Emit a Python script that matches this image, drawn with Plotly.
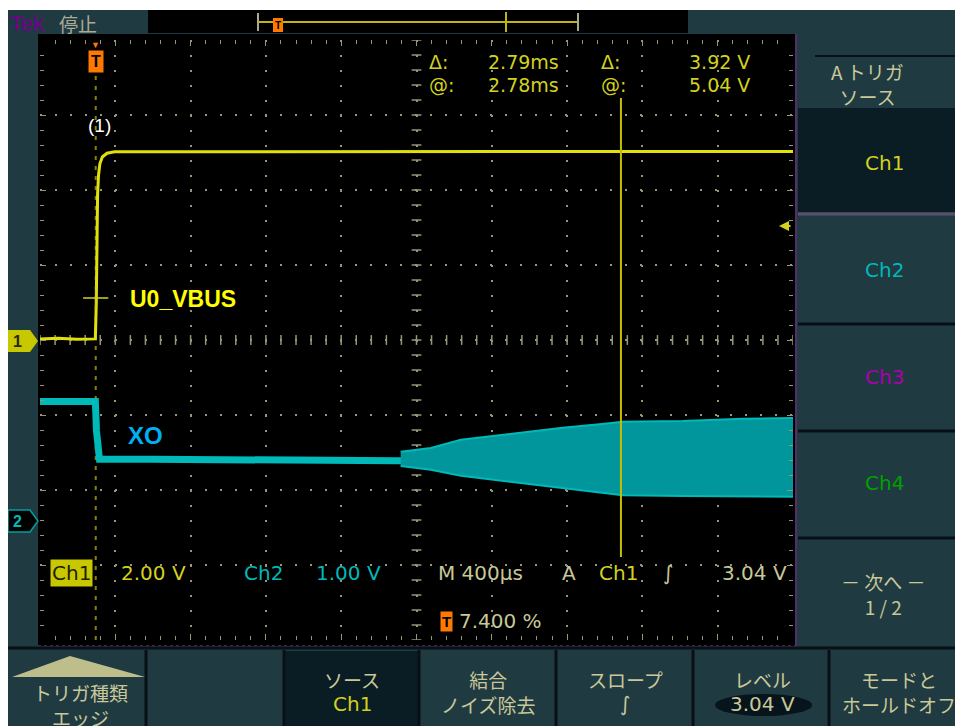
import numpy as np
import plotly.graph_objects as go

# ---------------- data ----------------
# Ch1 : U0_VBUS  (time in ms, voltage in V)
ch1_t = [-0.296, -0.20, -0.10, -0.002, 0.003, 0.006, 0.010, 0.015, 0.022, 0.035, 0.06, 0.10,
         0.5, 1.0, 1.5, 2.0, 2.5, 3.0, 3.5, 3.704]
ch1_v = [0.03, 0.05, 0.02, 0.03, 1.0, 2.6, 3.9, 4.4, 4.7, 4.88, 4.98, 5.02,
         5.02, 5.03, 5.02, 5.02, 5.03, 5.02, 5.02, 5.03]

# Ch2 : XO (centre of the trace)
ch2_t = [-0.296, -0.15, -0.002, 0.004, 0.012, 0.02, 0.3, 0.8, 1.2, 1.6, 2.0, 2.5, 3.0, 3.5, 3.704]
ch2_v = [1.59, 1.58, 1.59, 1.2, 0.9, 0.82, 0.82, 0.81, 0.80, 0.80, 0.81, 0.83, 0.83, 0.84, 0.84]

# Ch2 : XO oscillation envelope once the crystal starts up
env_t = [1.62, 1.78, 1.94, 2.10, 2.32, 2.48, 2.69, 2.80, 3.12, 3.44, 3.704]
env_hi = [0.92, 0.97, 1.08, 1.13, 1.19, 1.24, 1.29, 1.32, 1.33, 1.36, 1.37]
env_lo = [0.73, 0.68, 0.60, 0.55, 0.49, 0.44, 0.37, 0.34, 0.33, 0.32, 0.32]

# scope settings / readouts
time_per_div = 0.4          # ms  (M 400us)
trig_frac = 0.074           # 7.400 %
ch1_scale, ch2_scale = 2.0, 1.0
ch2_offset_div = -2.41
cursor_t = 2.79
cursor_v = 1.12
trig_level = 3.04
readout_top = [("Δ:", "2.79ms", "Δ:", "3.92 V"), ("@:", "2.78ms", "@:", "5.04 V")]
readout_bottom = ["Ch1", "2.00 V", "Ch2", "1.00 V", "M 400µs", "A", "Ch1", "∫", "3.04 V"]
side_menu = ["Ch1", "Ch2", "Ch3", "Ch4"]
bottom_menu = [("トリガ種類", "エッジ"), ("", ""), ("ソース", "Ch1"), ("結合", "ノイズ除去"),
               ("スロープ", "∫"), ("レベル", "3.04 V"), ("モードと", "ホールドオフ")]

# ---------------- geometry (screen pixels; page has an 8px body margin) ----------------
OX, OY = 8, 8
W, H = 963 - OX, 726 - OY
PL, PR, PT, PB = 40, 793, 40, 640
t0 = -trig_frac * 10 * time_per_div
t1 = t0 + 10 * time_per_div


def px(x):
    return (x - PL) / (PR - PL)


def py(y):
    return (PB - y) / (PB - PT)


TEAL = "rgb(32,58,66)"
DARK = "rgb(10,28,36)"
TAN = "rgb(200,200,152)"
YEL = "rgb(210,210,30)"
CYA = "rgb(0,185,185)"
GRID = "rgb(150,150,120)"
JP = "Noto Sans CJK JP"
MONO = "DejaVu Sans"

fig = go.Figure()

# graticule centre-line ticks
mx = np.arange(t0, t1 + 1e-9, time_per_div / 5)
my = np.arange(-4 * ch1_scale, 4 * ch1_scale + 1e-9, ch1_scale / 5)
tc = t0 + 5 * time_per_div
fig.add_trace(go.Scatter(x=mx, y=[0] * len(mx), mode="markers", yaxis="y",
                         marker=dict(symbol="line-ns", size=7, line=dict(color=GRID, width=1.5))))
fig.add_trace(go.Scatter(x=[tc] * len(my), y=my, mode="markers", yaxis="y",
                         marker=dict(symbol="line-ew", size=7, line=dict(color=GRID, width=1.5))))

# Ch2 trace and envelope
fig.add_trace(go.Scatter(x=ch2_t, y=ch2_v, mode="lines", yaxis="y2",
                         line=dict(color=CYA, width=7)))
fig.add_trace(go.Scatter(x=env_t, y=env_lo, mode="lines", yaxis="y2",
                         line=dict(color=CYA, width=2)))
fig.add_trace(go.Scatter(x=env_t, y=env_hi, mode="lines", yaxis="y2", fill="tonexty",
                         fillcolor="rgb(0,150,156)", line=dict(color=CYA, width=2)))
# Ch1 trace
fig.add_trace(go.Scatter(x=ch1_t, y=ch1_v, mode="lines", yaxis="y",
                         line=dict(color="rgb(225,225,10)", width=3)))
# waveform cursor "+"
fig.add_trace(go.Scatter(x=[0], y=[cursor_v], mode="markers", yaxis="y",
                         marker=dict(symbol="cross-thin", size=18, line=dict(color=YEL, width=1.5))))

# ---------------- shapes ----------------
shapes = []


def rect(x0, y0, x1, y1, fill, line=None, layer="below"):
    shapes.append(dict(type="rect", xref="paper", yref="paper", x0=px(x0), x1=px(x1),
                       y0=py(y1), y1=py(y0), fillcolor=fill,
                       line=line if line else dict(width=0), layer=layer))


def seg(x0, y0, x1, y1, color, width=2, layer="below", dash=None):
    ln = dict(color=color, width=width)
    if dash:
        ln["dash"] = dash
    shapes.append(dict(type="line", xref="paper", yref="paper", x0=px(x0), x1=px(x1),
                       y0=py(y0), y1=py(y1), line=ln, layer=layer))


def path(pts, fill, line=None, layer="below"):
    d = "M " + " L ".join(f"{px(a):.5f},{py(b):.5f}" for a, b in pts) + " Z"
    shapes.append(dict(type="path", xref="paper", yref="paper", path=d, fillcolor=fill,
                       line=line if line else dict(width=0), layer=layer))


rect(8, 10, 975, 740, TEAL)
rect(148, 10, 688, 33, "black")
rect(38, 34, 795, 646, "black")
seg(796, 34, 796, 646, "rgb(85,45,105)", 2)
seg(38, 646, 796, 646, "rgb(85,45,105)", 1.5, dash="dot")
seg(8, 648, 975, 648, "rgb(8,16,22)", 3)
# record-length bar
seg(258, 13, 258, 31, "rgb(170,170,140)", 2)
seg(258, 22, 578, 22, "rgb(190,180,20)", 2)
seg(506, 12, 506, 32, "rgb(190,180,20)", 2)
seg(578, 13, 578, 31, "rgb(170,170,140)", 2)
rect(273, 18, 283, 32, "rgb(255,120,0)")
# right menu
rect(798, 108, 975, 212, DARK)
seg(815, 56, 956, 56, "rgb(8,18,26)", 2)
seg(798, 214, 975, 214, "rgb(90,80,110)", 3)
seg(798, 324, 975, 324, "rgb(8,14,22)", 3)
seg(798, 431, 975, 431, "rgb(8,14,22)", 3)
seg(798, 538, 975, 538, "rgb(8,14,22)", 3)
# bottom menu
rect(285, 651, 418, 740, DARK)
for xs in [146, 284, 419, 556, 693, 829]:
    seg(xs, 650, xs, 740, "rgb(8,16,22)", 3)
path([(12, 677), (70, 656), (145, 677)], "rgb(190,190,140)")
shapes.append(dict(type="circle", xref="paper", yref="paper", x0=px(715), x1=px(812),
                   y0=py(716), y1=py(694), fillcolor="rgb(8,20,28)", line=dict(width=0),
                   layer="below"))
# channel ground markers
path([(8, 330), (30, 330), (38, 341), (30, 352), (8, 352)], "rgb(200,200,0)")
path([(8, 510), (30, 510), (38, 521), (30, 532), (8, 532)], "black",
     line=dict(color="rgb(0,160,160)", width=1.5))
# trigger position (dashed) and time cursor
shapes.append(dict(type="line", xref="x", yref="paper", x0=0, x1=0, y0=py(640), y1=py(76),
                   line=dict(color="rgb(140,130,0)", width=2, dash="4px,6px"), layer="below"))
shapes.append(dict(type="line", xref="x", yref="paper", x0=cursor_t, x1=cursor_t,
                   y0=py(557), y1=py(98), line=dict(color="rgb(200,190,0)", width=2),
                   layer="above"))

# ---------------- annotations ----------------
ann = []


def txt(x, y, s, color, size, family=MONO, xanchor="left", bg=None, pad=0):
    d = dict(x=px(x), y=py(y), xref="paper", yref="paper", text=s, showarrow=False,
             xanchor=xanchor, yanchor="middle", font=dict(color=color, size=size, family=family),
             borderpad=pad)
    if bg:
        d["bgcolor"] = bg
    ann.append(d)


txt(9, 23, "Tek", "rgb(115,0,140)", 22, "Liberation Sans")
txt(58, 23, "停止", "rgb(170,170,150)", 19, JP)
# trigger marker T
txt(278, 25, "<b>T</b>", "black", 10, "Liberation Sans", "center")
ann.append(dict(x=0, xref="x", y=py(44), yref="paper", text="▼", showarrow=False,
                font=dict(color="rgb(255,120,0)", size=9), yanchor="middle"))
ann.append(dict(x=0, xref="x", y=py(61), yref="paper", text="<b>T</b>", showarrow=False,
                font=dict(color="black", size=16, family="Liberation Sans"), bgcolor="rgb(255,120,0)",
                borderpad=2, yanchor="middle"))
# cursor readouts
for row, yy in zip(readout_top, [62, 85]):
    txt(428, yy, row[0], YEL, 19)
    txt(487, yy, row[1], YEL, 19)
    txt(600, yy, row[2], YEL, 19)
    txt(751, yy, row[3], YEL, 19, xanchor="right")
# bottom readouts
txt(71, 573, readout_bottom[0], "rgb(30,30,0)", 20, xanchor="center", bg="rgb(200,200,0)", pad=1)
txt(120, 573, readout_bottom[1], YEL, 20)
txt(243, 573, readout_bottom[2], CYA, 20)
txt(315, 573, readout_bottom[3], CYA, 20)
txt(437, 573, readout_bottom[4], TAN, 20)
txt(561, 573, readout_bottom[5], TAN, 20)
txt(598, 573, readout_bottom[6], YEL, 20)
txt(662, 573, readout_bottom[7], TAN, 20)
txt(788, 573, readout_bottom[8], TAN, 20, xanchor="right")
txt(446, 621, "<b>T</b>", "black", 15, "Liberation Sans", "center", bg="rgb(255,120,0)", pad=1)
txt(458, 621, "7.400 %", TAN, 20)
# ground marker labels
txt(17, 341, "<b>1</b>", "rgb(40,40,0)", 16, "Liberation Sans", "center")
txt(17, 521, "<b>2</b>", CYA, 16, "Liberation Sans", "center")
# trigger level arrow
ann.append(dict(x=px(779), xref="paper", y=trig_level, yref="y", text="", showarrow=True,
                ax=13, ay=0, arrowhead=2, arrowsize=1, arrowwidth=2, arrowcolor=YEL))
# signal labels
txt(99, 126, "(1)", "white", 19, "Liberation Sans", "center")
txt(129, 299, "<b>U0_VBUS</b>", "rgb(255,255,0)", 23, "Liberation Sans")
txt(127, 435, "<b>XO</b>", "rgb(0,176,240)", 24, "Liberation Sans")
# right menu
txt(868, 84, "A トリガ<br>ソース", TAN, 19, JP, "center")
for lab, yy, col in zip(side_menu, [163, 270, 377, 483],
                        [YEL, CYA, "rgb(170,0,170)", "rgb(0,160,0)"]):
    txt(885, yy, lab, col, 20, MONO, "center")
txt(884, 594, "－ 次へ －<br>1 / 2", TAN, 19, JP, "center")
# bottom menu
centers = [80, 215, 352, 488, 625, 762, 899]
for (a, b), cx in zip(bottom_menu, centers):
    if not a:
        continue
    if b in ("Ch1", "3.04 V", "∫"):
        txt(cx, 679, a, TAN, 19, JP, "center")
        col = YEL if b == "Ch1" else TAN
        txt(cx, 704, b, col, 20, MONO, "center")
    else:
        yy = 705 if cx == 80 else 692
        txt(cx, yy, a + "<br>" + b, TAN, 19, JP, "center")

fig.update_layout(
    width=W, height=H, autosize=False,
    margin=dict(l=PL - OX, r=W - (PR - OX), t=PT - OY, b=H - (PB - OY), pad=0),
    paper_bgcolor="white", plot_bgcolor="rgba(0,0,0,0)",
    showlegend=False, hovermode=False,
    shapes=shapes, annotations=ann,
    xaxis=dict(range=[t0, t1], tick0=t0, dtick=time_per_div, showgrid=True, gridcolor=GRID,
               gridwidth=2, griddash="2px,13px", zeroline=False, showline=False,
               showticklabels=False, ticks="inside", ticklen=6, tickcolor=GRID, mirror="ticks",
               minor=dict(tick0=t0, dtick=time_per_div / 5, ticks="inside", ticklen=4,
                          tickcolor=GRID, showgrid=False)),
    yaxis=dict(range=[-4 * ch1_scale, 4 * ch1_scale], tick0=0, dtick=ch1_scale, showgrid=True,
               gridcolor=GRID, gridwidth=2, griddash="2px,13px", zeroline=False, showline=False,
               showticklabels=False, ticks="inside", ticklen=6, tickcolor=GRID, mirror="ticks",
               minor=dict(tick0=0, dtick=ch1_scale / 5, ticks="inside", ticklen=4,
                          tickcolor=GRID, showgrid=False)),
    yaxis2=dict(range=[(-4 - ch2_offset_div) * ch2_scale, (4 - ch2_offset_div) * ch2_scale],
                overlaying="y", visible=False),
)

fig.write_html("out.html")
